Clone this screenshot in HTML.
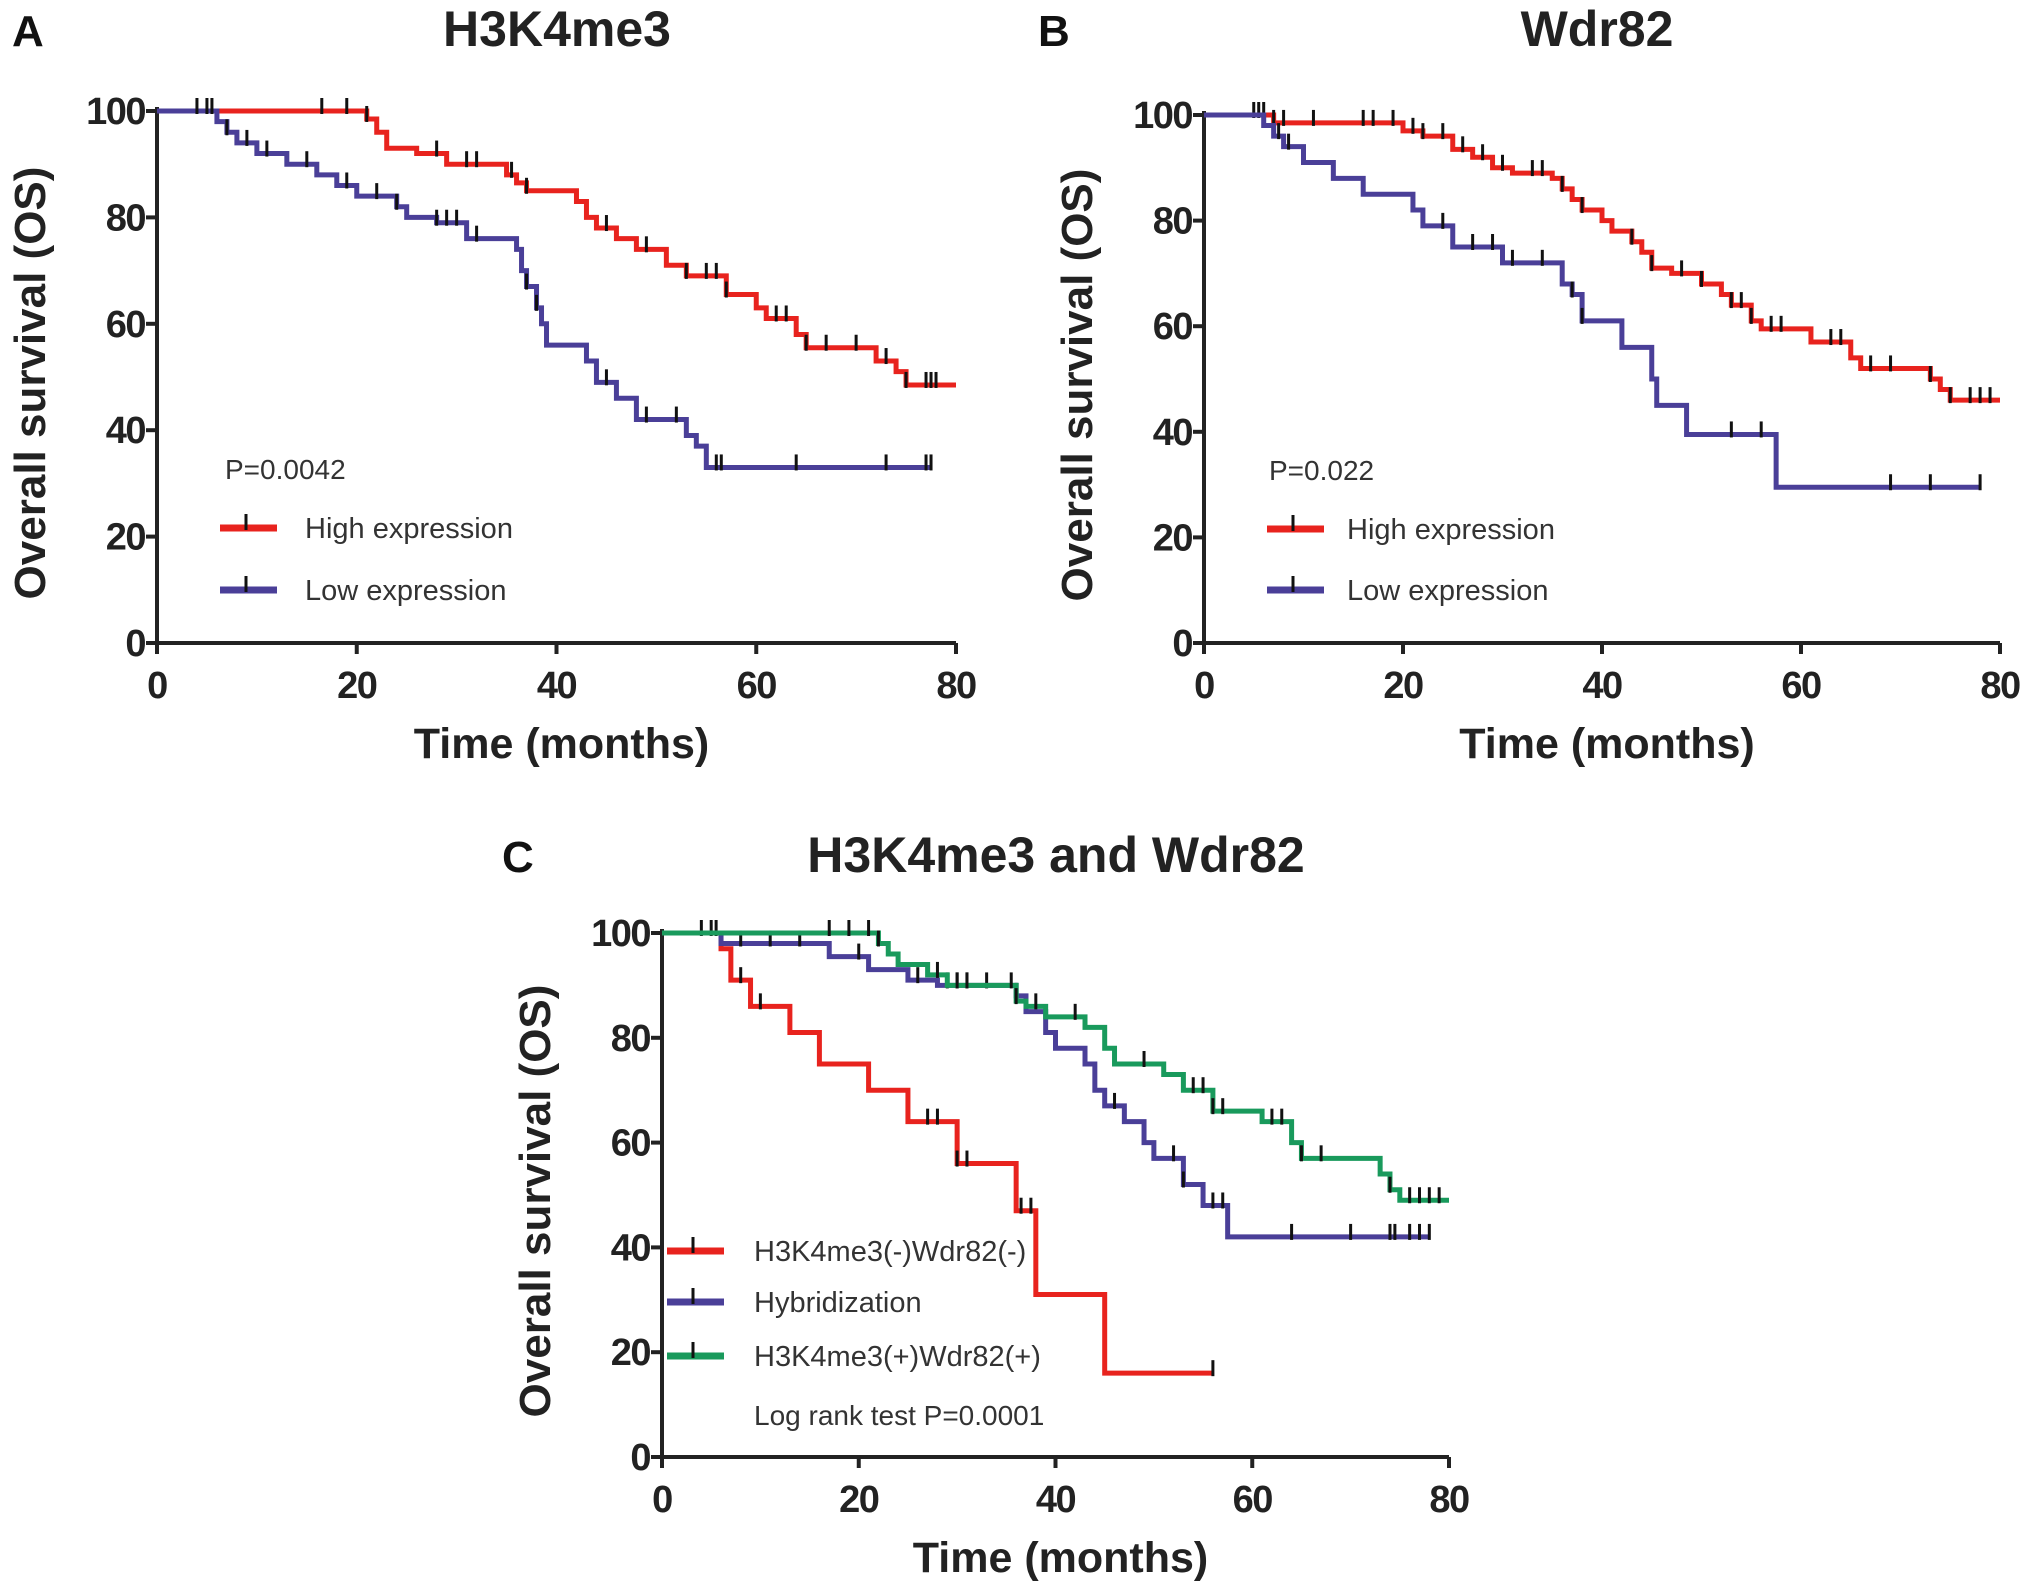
<!DOCTYPE html>
<html><head><meta charset="utf-8"><style>
html,body{margin:0;padding:0;background:#fff;}
svg{display:block;font-family:"Liberation Sans",Arial,sans-serif;}
</style></head><body>
<svg id="fig" width="2031" height="1596" viewBox="0 0 2031 1596"></svg>
<script>
// Panel A: H3K4me3
const aHighT=[0,21,22,23,26,29,35,36,37,42,43,44,46,48,51,53,57,60,61,64,65,72,74,75];
const aHighS=[100,98.5,96,93,92,90,88,86.5,85,83,80,78,76,74,71,69,65.5,63,61,58,55.5,53,51,48.5];
const aHighC=[16.5,19,21,28,31,32,35.5,37,45,49,53,55,56,57,62,63,65,67,70,73,75,77,77.5,78];
const aHighEnd=80;
const aLowT=[0,6,7,8,10,13,16,18,20,24,25,28,31,36,36.5,37,38,38.5,39,43,44,46,48,53,54,55];
const aLowS=[100,98,96,94,92,90,88,86,84,82,80,79,76,74,70,67,63,60,56,53,49,46,42,39,37,33];
const aLowC=[4,5,5.5,7,9,11,15,19,22,24,28,29,30,32,37,38,45,49,52,56,56.5,64,73,77,77.5];
const aLowEnd=77.5;
// Panel B: Wdr82
const bHighT=[0,7,20,22,25,27,29,31,35,36,37,38,40,41,43,44,45,47,50,52,53,55,56,61,65,66,73,74,75];
const bHighS=[100,98.5,97,96,93.5,92,90,89,88,86,84,82,80,78,76,74,71,70,68,66,64,61,59.5,57,54,52,50,48,46];
const bHighC=[5,5.5,6,7,8,11,16,17,19,21,22,24,26,28,30,33,34,36,38,43,45,48,50,53,54,55,57,58,63,64,67,69,73,75,77,78,79];
const bHighEnd=80;
const bLowT=[0,6,7,8,10,13,16,21,22,25,30,36,37,38,42,45,45.5,48.5,57.5];
const bLowS=[100,98,96,94,91,88,85,82,79,75,72,68,66,61,56,50,45,39.5,29.5];
const bLowC=[7.5,8.5,24,27,29,31,34,37,38,53,56,69,73,78];
const bLowEnd=78;
// Panel C: H3K4me3 and Wdr82
const cNegT=[0,6,7,9,13,16,21,25,30,36,38,45];
const cNegS=[100,97,91,86,81,75,70,64,56,47,31,16];
const cNegC=[4,5,5.5,8,10,27,28,30,31,36.5,37.5,56];
const cNegEnd=56;
const cHybT=[0,6,17,21,25,28,36,37,39,40,43,44,45,47,49,50,53,55,57.5];
const cHybS=[100,98,95.5,93,91,90,88,85,81,78,75,70,67,64,60,57,52,48,42];
const cHybC=[8,11,14,20,26,29,30,31,33,36,46,52,53,56,57,64,70,74,74.5,76,77,78];
const cHybEnd=78;
const cPosT=[0,22,23,24,27,29,36,37,39,43,45,46,51,53,56,61,64,65,73,74,75];
const cPosS=[100,98,96,94,92,90,87,86,84,82,78,75,73,70,66,64,60,57,54,51,49];
const cPosC=[17,19,21,22,28,30,31,35.5,36,38,42,49,54,55,56,57,62,63,65,67,74,76,77,78,79];
const cPosEnd=80;
const xTicks=[0,20,40,60,80];
const yTicks=[0,20,40,60,80,100];

const NS='http://www.w3.org/2000/svg';
const svg=document.getElementById('fig');
function mk(tag,attrs,parent){const e=document.createElementNS(NS,tag);for(const k in attrs)e.setAttribute(k,attrs[k]);(parent||svg).appendChild(e);return e;}
function txt(str,attrs,parent){const e=mk('text',attrs,parent);e.textContent=str;return e;}
const RED='#e8231e',BLUE='#4a3f98',GREEN='#199a5c';

function panel(p){
  const g=mk('g',{});
  
  
  const xs=v=>p.x0+(p.x1-p.x0)*v/80;
  const ys=v=>p.y0+(p.y1-p.y0)*v/100;
  const L=txt(p.letter,{x:p.lx,y:p.ty,'font-size':44,'font-weight':'bold',fill:'#111'},g);
  
  const T=txt(p.title,{x:p.tx,y:p.ty,'font-size':50,'font-weight':'bold','text-anchor':'middle',fill:'#222'},g);
  
  const ax=mk('path',{d:`M${p.x0},${ys(100)-4}V${p.y0}H${p.x1}`,stroke:'#222','stroke-width':4,fill:'none'},g);
  
  yTicks.forEach(v=>{
    mk('line',{x1:p.x0-11,x2:p.x0,y1:ys(v),y2:ys(v),stroke:'#222','stroke-width':4},g);
    const t=txt(v,{x:p.x0-12,y:ys(v)+13,'font-size':38,'font-weight':'bold','text-anchor':'end',fill:'#222','letter-spacing':'-1.5'},g);
    
  });
  xTicks.forEach(v=>{
    mk('line',{x1:xs(v),x2:xs(v),y1:p.y0,y2:p.y0+11},g).setAttribute('style','stroke:#222;stroke-width:4');
    const t=txt(v,{x:xs(v),y:p.y0+55,'font-size':38,'font-weight':'bold','text-anchor':'middle',fill:'#222','letter-spacing':'-1.5'},g);
    
  });
  const xt=txt('Time  (months)',{x:(p.x0+p.x1)/2+5,y:p.y0+115,'font-size':43,'font-weight':'bold','text-anchor':'middle',fill:'#222','xml:space':'preserve'},g);
  
  const cy=(p.y0+p.y1)/2+6;
  const yt=txt('Overall survival (OS)',{x:0,y:0,transform:`translate(${p.x0-112},${cy}) rotate(-90)`,'font-size':44,'font-weight':'bold','text-anchor':'middle',fill:'#222'},g);
  
  p.series.forEach(s=>{
    let d=`M${xs(s.t[0])},${ys(s.s[0])}`;
    for(let i=1;i<s.t.length;i++){d+=`H${xs(s.t[i])}V${ys(s.s[i])}`;}
    d+=`H${xs(s.end)}`;
    const path=mk('path',{d:d,stroke:s.color,'stroke-width':5,fill:'none'},g);
    
    
    const sv=t=>{let v=s.s[0];for(let i=0;i<s.t.length;i++){if(s.t[i]<=t)v=s.s[i];}return v;};
    s.c.forEach(t=>{
      const m=mk('line',{x1:xs(t),x2:xs(t),y1:ys(sv(t))-13,y2:ys(sv(t))+3,stroke:'#111','stroke-width':3},g);
      
      
    });
  });
  if(p.ptext){const pt=txt(p.ptext,{x:p.px,y:p.py,'font-size':28,fill:'#333'},g);}
  p.legend.forEach(l=>{
    const lg=mk('g',{},g);
    
    
    mk('line',{x1:p.legX,x2:p.legX+57,y1:l.y,y2:l.y,stroke:l.color,'stroke-width':7},lg);
    mk('line',{x1:p.legX+26,x2:p.legX+26,y1:l.y-14,y2:l.y+2,stroke:'#111','stroke-width':3},lg);
    txt(l.label,{x:p.legTx,y:l.y+10,'font-size':29,fill:'#333','xml:space':'preserve'},lg);
  });
  if(p.extra){const e=txt(p.extra,{x:p.legTx,y:p.extraY,'font-size':28,fill:'#333','xml:space':'preserve'},g);}
}

panel({name:'panel-a',letter:'A',lx:12,title:'H3K4me3',tx:557,ty:46,x0:157,x1:956,y0:643,y1:111,
  series:[{name:'high-expression',t:aHighT,s:aHighS,c:aHighC,end:aHighEnd,color:RED},
          {name:'low-expression',t:aLowT,s:aLowS,c:aLowC,end:aLowEnd,color:BLUE}],
  ptext:'P=0.0042',px:225,py:479,legX:220,legTx:305,
  legend:[{label:'High expression',y:528,color:RED},{label:'Low  expression',y:590,color:BLUE}]});
panel({name:'panel-b',letter:'B',lx:1038,title:'Wdr82',tx:1597,ty:46,x0:1204,x1:2000,y0:643,y1:115,
  series:[{name:'high-expression',t:bHighT,s:bHighS,c:bHighC,end:bHighEnd,color:RED},
          {name:'low-expression',t:bLowT,s:bLowS,c:bLowC,end:bLowEnd,color:BLUE}],
  ptext:'P=0.022',px:1269,py:480,legX:1267,legTx:1347,
  legend:[{label:'High expression',y:529,color:RED},{label:'Low  expression',y:590,color:BLUE}]});
panel({name:'panel-c',letter:'C',lx:502,title:'H3K4me3 and Wdr82',tx:1056,ty:872,x0:662,x1:1449,y0:1457,y1:933,
  series:[{name:'negative-group',t:cNegT,s:cNegS,c:cNegC,end:cNegEnd,color:RED},
          {name:'hybridization',t:cHybT,s:cHybS,c:cHybC,end:cHybEnd,color:BLUE},
          {name:'positive-group',t:cPosT,s:cPosS,c:cPosC,end:cPosEnd,color:GREEN}],
  legX:667,legTx:754,
  legend:[{label:'H3K4me3(-)Wdr82(-)',y:1251,color:RED},{label:'Hybridization',y:1302,color:BLUE},{label:'H3K4me3(+)Wdr82(+)',y:1356,color:GREEN}],
  extra:'Log rank test  P=0.0001',extraY:1425});
</script>
</body></html>
